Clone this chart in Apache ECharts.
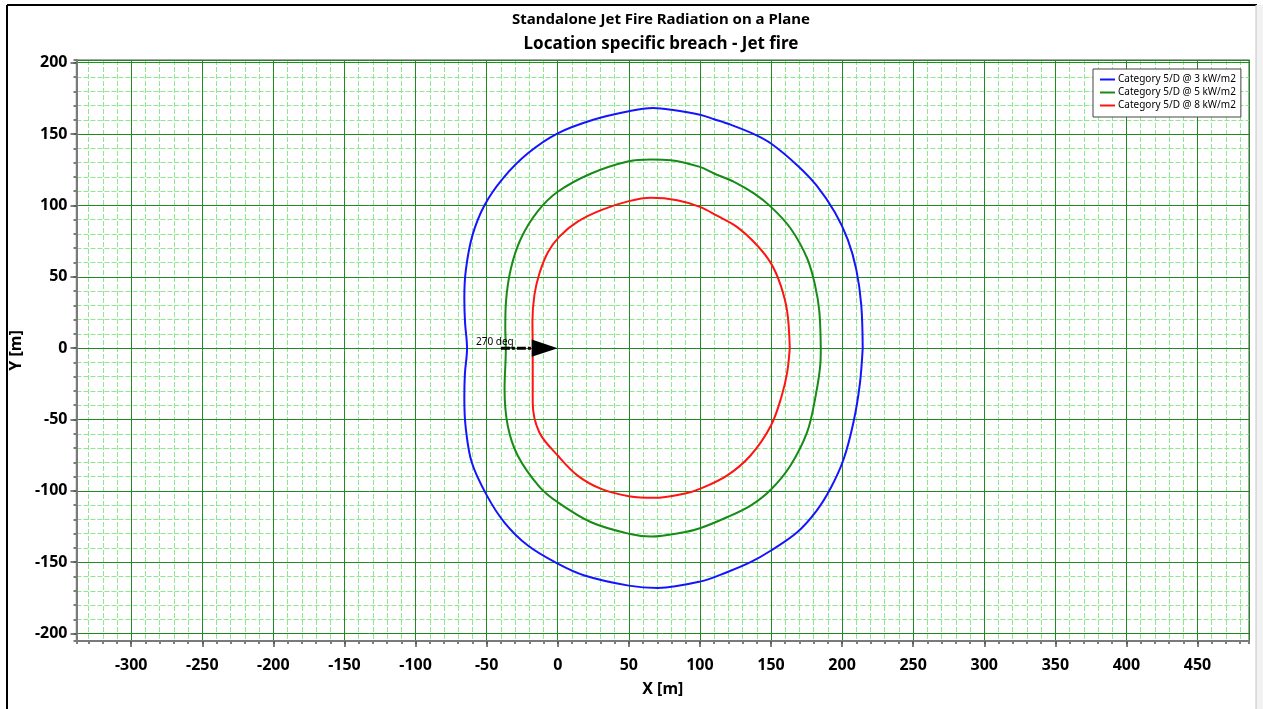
<!DOCTYPE html>
<html>
<head>
<meta charset="utf-8">
<script src="https://cdn.jsdelivr.net/npm/echarts@6/dist/echarts.min.js"></script>
<style>
  html, body { margin: 0; padding: 0; background: #fff; }
  #chart { width: 1263px; height: 709px; }
</style>
</head>
<body>
<div id="chart"></div>
<script>
// Titles and names
const titleMain = 'Standalone Jet Fire Radiation on a Plane';
const titleSub = 'Location specific breach - Jet fire';
const xName = 'X [m]';
const yName = 'Y [m]';
const seriesNames = ['Category 5/D @ 3 kW/m2', 'Category 5/D @ 5 kW/m2', 'Category 5/D @ 8 kW/m2'];
const seriesColors = ['#1414ff', '#178a17', '#ff1414'];

// Axis ranges (metres) and grid steps
const xRange = [-338.5, 486.2];
const yRange = [-205.2, 201.9];
const majorStep = 50;
const minorStep = 10;

// Radiation contours [x, y] in metres
const contour3kW = [
  [214.5, 0], [213.5, 30], [210, 55], [204, 76], [195, 95], [182, 114], [168.4, 128.2], [150, 143.4],
  [138, 150], [121.5, 156.6], [110, 160.4], [100, 163.6], [80, 167], [67, 168.2], [50, 166],
  [25, 160], [0, 150.5], [-21, 136.5], [-38.5, 119], [-51.6, 100], [-60, 79], [-64.6, 55],
  [-65.7, 35], [-65.2, 18], [-63.8, 0], [-65.3, -18], [-65.7, -35], [-64.8, -55], [-60.5, -80],
  [-50, -103], [-37.6, -122], [-21, -138.3], [0, -151], [18.8, -159.3], [50, -166.4],
  [70.4, -168], [100, -163.6], [119, -157], [135.6, -150], [150, -141.8], [168.4, -129],
  [182, -114], [192, -98], [201, -78], [208, -51.9], [212.5, -25], [214.5, 0]
];
const contour5kW = [
  [185, 0], [184, 25.6], [181, 44], [175.4, 63], [163.7, 84], [150, 99], [138, 108.4],
  [124, 116.5], [110, 122.4], [100, 127], [79.4, 131.7], [65.5, 132.2], [50, 131],
  [23.5, 122.4], [0, 109.6], [-14, 96], [-25.8, 77], [-32.9, 56], [-36.4, 32.6],
  [-36.9, 14], [-36.5, 0], [-37.4, -28.5], [-35.2, -54.2], [-28.2, -75.2], [-13, -97],
  [0, -108], [23.5, -122], [50, -130], [65.7, -132], [88.8, -129], [100, -126.2],
  [119, -118.5], [135.6, -110.3], [150, -99], [163.7, -82.2], [175.4, -58.9], [181, -35.5],
  [184.8, -9.8], [185, 0]
];
const contour8kW = [
  [163.2, 0], [161.4, 25.6], [156.7, 44.3], [150, 59.4], [140, 72.3], [126, 85], [112, 92.8],
  [100, 99], [84, 103.7], [65.5, 105.4], [50, 103], [30.5, 96.7], [14, 88.6], [1, 78],
  [-7, 67], [-13, 52], [-16.4, 37.3], [-17.8, 18.6], [-17.6, 0], [-17.6, -37.9],
  [-13, -58.9], [0, -75.2], [14, -89.3], [30.5, -98.6], [50, -103.7], [68, -104.9],
  [88.8, -102], [100, -98.6], [119, -89.3], [135.6, -75.2], [150, -54.2], [157.6, -33.2],
  [161.4, -16.8], [163.2, 0]
];

// Wind / release direction arrow
const directionLabel = '270 deg';
const arrowShaft = [[-40, 0], [-18.3, 0]];
const arrowHead = [[-18.3, 6], [0, 0], [-18.3, -6]];
const labelAnchor = [-57.5, 0];

const FONT = '"Noto Sans", "Open Sans", sans-serif';
const majorColor = '#238a23';
const minorColor = '#8fe88f';
const none = 'rgba(0,0,0,0)';

const chart = echarts.init(document.getElementById('chart'), null, { renderer: 'canvas' });

function majorAxis(range, extra) {
  return Object.assign({
    type: 'value',
    min: range[0],
    max: range[1],
    minInterval: majorStep,
    maxInterval: majorStep,
    splitNumber: 16,
    z: 2,
    axisLine: { show: true, onZero: false, lineStyle: { color: '#7a7a7a', width: 2 } },
    axisTick: { show: true, length: 6, lineStyle: { color: '#555', width: 1.5 } },
    splitLine: { show: true, lineStyle: { color: majorColor, width: 1 } },
    axisLabel: {
      show: true, showMinLabel: false, showMaxLabel: false, interval: 0,
      color: '#000', fontSize: 16, fontWeight: 'bold', fontFamily: FONT
    }
  }, extra);
}
// minor grid every 10 m; the colour list leaves out the lines that sit on the 50 m grid
function minorAxis(range, colors, extra) {
  return Object.assign({
    type: 'value',
    min: range[0],
    max: range[1],
    minInterval: minorStep,
    maxInterval: minorStep,
    splitNumber: 80,
    z: 1,
    axisLine: { show: false, onZero: false },
    axisTick: { show: true, length: 3, lineStyle: { color: '#555', width: 1.5 } },
    splitLine: { show: true, lineStyle: { color: colors, width: 1, type: [5, 2] } },
    axisLabel: { show: false }
  }, extra);
}

const contours = [contour3kW, contour5kW, contour8kW];
const lineSeries = contours.map((pts, i) => ({
  name: seriesNames[i],
  type: 'line',
  data: pts,
  xAxisIndex: 0,
  yAxisIndex: 0,
  showSymbol: false,
  symbol: 'none',
  smooth: 0.35,
  z: 5,
  lineStyle: { color: seriesColors[i], width: 2 },
  itemStyle: { color: seriesColors[i] },
  silent: true
}));

const option = {
  animation: false,
  backgroundColor: '#fff',
  grid: {
    left: 74, top: 60, width: 1175, height: 581,
    show: true, borderColor: '#8a8a8a', borderWidth: 1.5, backgroundColor: '#fff'
  },
  legend: {
    data: seriesNames,
    orient: 'vertical',
    left: 1093,
    top: 69,
    icon: 'rect',
    itemWidth: 15,
    itemHeight: 2,
    itemGap: 2,
    padding: [5, 5, 6, 7],
    backgroundColor: '#fff',
    borderColor: '#444',
    borderWidth: 1,
    borderRadius: 0,
    selectedMode: false,
    textStyle: { fontSize: 10, color: '#000', fontFamily: FONT, lineHeight: 11, padding: [0, 0, 0, -2] }
  },
  xAxis: [
    majorAxis(xRange, {
      position: 'bottom',
      name: xName, nameLocation: 'middle', nameGap: 40,
      nameTextStyle: { color: '#000', fontSize: 16, fontWeight: 'bold', fontFamily: FONT },
      axisLabel: {
        show: true, showMinLabel: false, showMaxLabel: false, interval: 0, margin: 16,
        color: '#000', fontSize: 16, fontWeight: 'bold', fontFamily: FONT
      }
    }),
    minorAxis(xRange, [minorColor, minorColor, minorColor, minorColor, none], { position: 'bottom' })
  ],
  yAxis: [
    majorAxis(yRange, {
      position: 'left',
      splitNumber: 8,
      name: yName, nameLocation: 'middle', nameGap: 50, nameRotate: 90,
      nameTextStyle: { color: '#000', fontSize: 16, fontWeight: 'bold', fontFamily: FONT },
      axisLabel: {
        show: true, showMinLabel: false, showMaxLabel: false, interval: 0, margin: 9,
        color: '#000', fontSize: 16, fontWeight: 'bold', fontFamily: FONT
      }
    }),
    minorAxis(yRange, [minorColor, none, minorColor, minorColor, minorColor], { position: 'left', splitNumber: 40 })
  ],
  series: lineSeries.concat([
    {
      name: 'direction',
      type: 'line',
      data: arrowShaft,
      xAxisIndex: 0, yAxisIndex: 0,
      symbol: 'none',
      z: 6,
      silent: true,
      lineStyle: { color: '#000', width: 3, type: [9, 2, 3, 2] }
    },
    {
      name: 'direction head',
      type: 'custom',
      xAxisIndex: 0, yAxisIndex: 0,
      z: 7,
      silent: true,
      data: [[0, 0]],
      renderItem: function (params, api) {
        const pts = arrowHead.map(p => api.coord(p));
        const t = api.coord(labelAnchor);
        return {
          type: 'group',
          children: [
            { type: 'polygon', shape: { points: pts }, style: { fill: '#000' } },
            {
              type: 'text', x: t[0], y: t[1] - 6,
              style: { text: directionLabel, fill: '#000', font: '10px ' + FONT, align: 'left', verticalAlign: 'middle' }
            }
          ]
        };
      }
    }
  ]),
  graphic: [
    // window frame
    { type: 'line', shape: { x1: 7, y1: 5, x2: 1257, y2: 5 }, style: { stroke: '#000', lineWidth: 2 }, z: 10 },
    { type: 'line', shape: { x1: 7, y1: 5, x2: 7, y2: 709 }, style: { stroke: '#000', lineWidth: 2 }, z: 10 },
    { type: 'rect', shape: { x: 1256, y: 5, width: 7, height: 704 }, style: { fill: '#f2f2f2' }, z: 10 },
    { type: 'line', shape: { x1: 1256, y1: 5, x2: 1256, y2: 709 }, style: { stroke: '#c4c4c4', lineWidth: 1 }, z: 10 },
    // chart titles
    {
      type: 'text', x: 661, y: 20, z: 10,
      style: { text: titleMain, fill: '#000', font: 'bold 15px ' + FONT, align: 'center', verticalAlign: 'middle' }
    },
    {
      type: 'text', x: 661, y: 44, z: 10,
      style: { text: titleSub, fill: '#000', font: 'bold 17px ' + FONT, align: 'center', verticalAlign: 'middle' }
    }
  ]
};

chart.setOption(option);
</script>
</body>
</html>
